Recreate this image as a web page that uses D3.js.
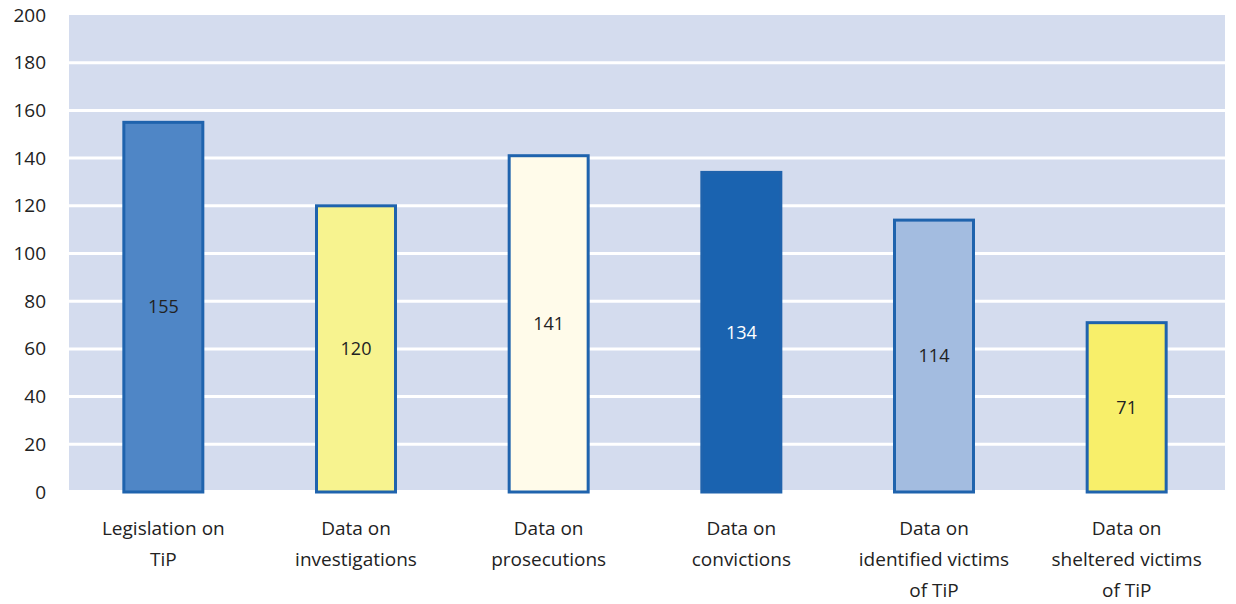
<!DOCTYPE html>
<html>
<head>
<meta charset="utf-8">
<script src="https://cdn.jsdelivr.net/npm/d3@7"></script>
<style>
  body { margin: 0; background: #ffffff; }
  svg { font-family: "Open Sans", "Noto Sans", sans-serif; }
</style>
</head>
<body>
<svg id="chart" width="1236" height="604"></svg>
<script>
const categories = [
  ["Legislation on", "TiP"],
  ["Data on", "investigations"],
  ["Data on", "prosecutions"],
  ["Data on", "convictions"],
  ["Data on", "identified victims", "of TiP"],
  ["Data on", "sheltered victims", "of TiP"]
];
const values = [155, 120, 141, 134, 114, 71];
const fills = ["#4f86c6", "#f7f38f", "#fffbea", "#1a63b0", "#a3bce0", "#f8ef6a"];
const labelColors = ["#222", "#222", "#222", "#ffffff", "#222", "#222"];
const yTicks = [0, 20, 40, 60, 80, 100, 120, 140, 160, 180, 200];

const margin = { top: 15, right: 11, bottom: 112, left: 69 };
const W = 1236, H = 604;
const width = W - margin.left - margin.right;
const height = H - margin.top - margin.bottom;

const svg = d3.select("#chart");
const g = svg.append("g").attr("transform", `translate(${margin.left},${margin.top})`);

// bands shifted 2px left to line up with the original
const x = d3.scaleBand().domain(d3.range(values.length)).range([-2, width - 2]).paddingInner(0.59).paddingOuter(0.295);
const y = d3.scaleLinear().domain([0, 200]).range([height, 0]);

// plot background
g.append("rect")
  .attr("x", 0).attr("y", 0)
  .attr("width", width).attr("height", y(0) - 2)
  .attr("fill", "#d4dcee");

// white gridlines
g.selectAll(".grid")
  .data(yTicks.filter(d => d > 0 && d < 200))
  .enter().append("line")
  .attr("x1", 0).attr("x2", width)
  .attr("y1", d => y(d)).attr("y2", d => y(d))
  .attr("stroke", "#ffffff").attr("stroke-width", 3);

// y axis
const yAxis = d3.axisLeft(y).tickValues(yTicks).tickSize(0).tickPadding(23);
const yG = g.append("g").call(yAxis);
yG.select(".domain").remove();
yG.selectAll("text").attr("font-size", "19px").attr("fill", "#222")
  .attr("font-family", "'Open Sans', 'Noto Sans', sans-serif");

// bars
g.selectAll(".bar")
  .data(values)
  .enter().append("rect")
  .attr("x", (d, i) => x(i))
  .attr("y", d => y(d))
  .attr("width", x.bandwidth())
  .attr("height", d => y(0) - y(d))
  .attr("fill", (d, i) => fills[i])
  .attr("stroke", "#1f63ad")
  .attr("stroke-width", 3);

// value labels
g.selectAll(".val")
  .data(values)
  .enter().append("text")
  .attr("x", (d, i) => x(i) + x.bandwidth() / 2)
  .attr("y", d => (y(d) + y(0)) / 2)
  .attr("dy", "0.35em")
  .attr("text-anchor", "middle")
  .attr("font-size", "18px")
  .attr("fill", (d, i) => labelColors[i])
  .text(d => d);

// category labels
const cat = g.selectAll(".cat")
  .data(categories)
  .enter().append("text")
  .attr("text-anchor", "middle")
  .attr("font-size", "19px")
  .attr("fill", "#222")
  .attr("transform", (d, i) => `translate(${x(i) + x.bandwidth() / 2},${height + 43})`);
cat.selectAll("tspan")
  .data(d => d)
  .enter().append("tspan")
  .attr("x", 0)
  .attr("y", (d, i) => i * 31)
  .text(d => d);
</script>
</body>
</html>
